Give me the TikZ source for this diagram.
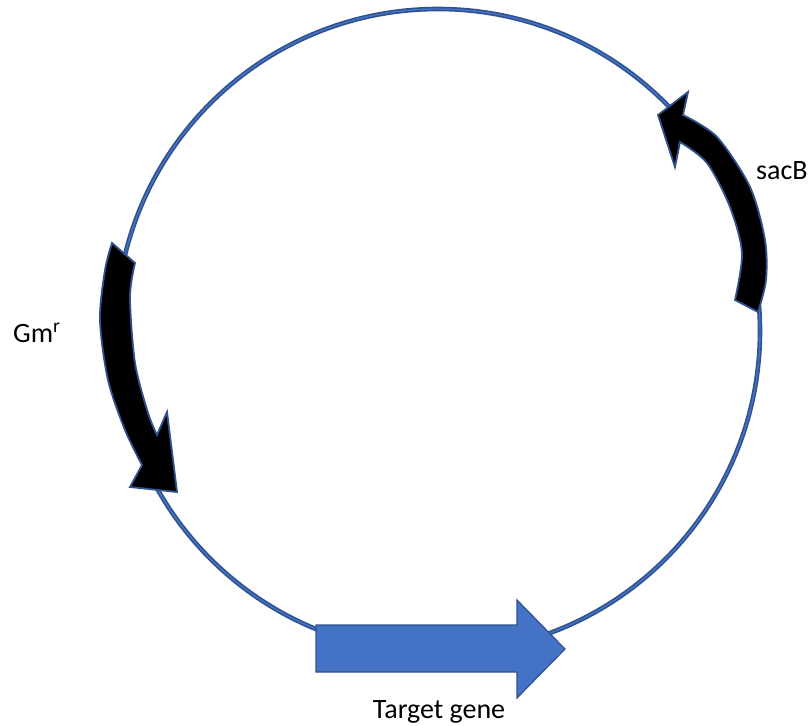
\documentclass[tikz,border=0pt]{standalone}
\usepackage{fontspec}
\setmainfont{Carlito}
\definecolor{geneblue}{RGB}{68,114,196}
\definecolor{edgeblue}{RGB}{47,82,143}

\begin{document}
\begin{tikzpicture}[x=1pt,y=-1pt,
  backbone/.style={draw=edgeblue,line width=4.6pt},
  backbonecore/.style={draw=geneblue,line width=1.4pt},
  marker/.style={fill=black,draw=edgeblue,line width=1.8pt,line join=miter},
  target/.style={fill=geneblue,draw=edgeblue,line width=1.2pt,line join=miter},
  genelabel/.style={font=\fontsize{28}{34}\selectfont,inner sep=0pt}]
\useasboundingbox (0,0) rectangle (812,726);
\coordinate (ori) at (438,331);
% plasmid backbone
\draw[backbone] (ori) circle[radius=322];
\draw[backbonecore] (ori) circle[radius=322];
% Gm resistance marker
\filldraw[marker] (112,243) -- plot[smooth] coordinates {(135,263) (130,297) (135,363) (148,413) (157,435)}
  -- (167,412) -- (177,492) -- (130,487)
  -- plot[smooth] coordinates {(142,465) (125,430) (108,380) (100,320) (105,270) (112,243)} -- cycle;
% sacB marker
\filldraw[marker] (658,115) -- (688,92)
  -- plot[smooth] coordinates {(683,115) (717,137) (750,187) (765,240) (766,280) (758,312)}
  -- plot[smooth] coordinates {(735,300) (742,253) (730,207) (707,163) (680,142)}
  -- (675,167) -- cycle;
% target gene
\filldraw[target] (316,625) -- (517,625) -- (517,600) -- (565,649) -- (517,698) -- (517,672) -- (316,672) -- cycle;
\node[genelabel,anchor=base] (tg) at (439,718) {Target gene};
\node[genelabel,anchor=base west] (sac) at (756,179) {sacB};
\node[genelabel,anchor=base west] (gm) at (13,342) {Gm\textsuperscript{r}};
\end{tikzpicture}
\end{document}
